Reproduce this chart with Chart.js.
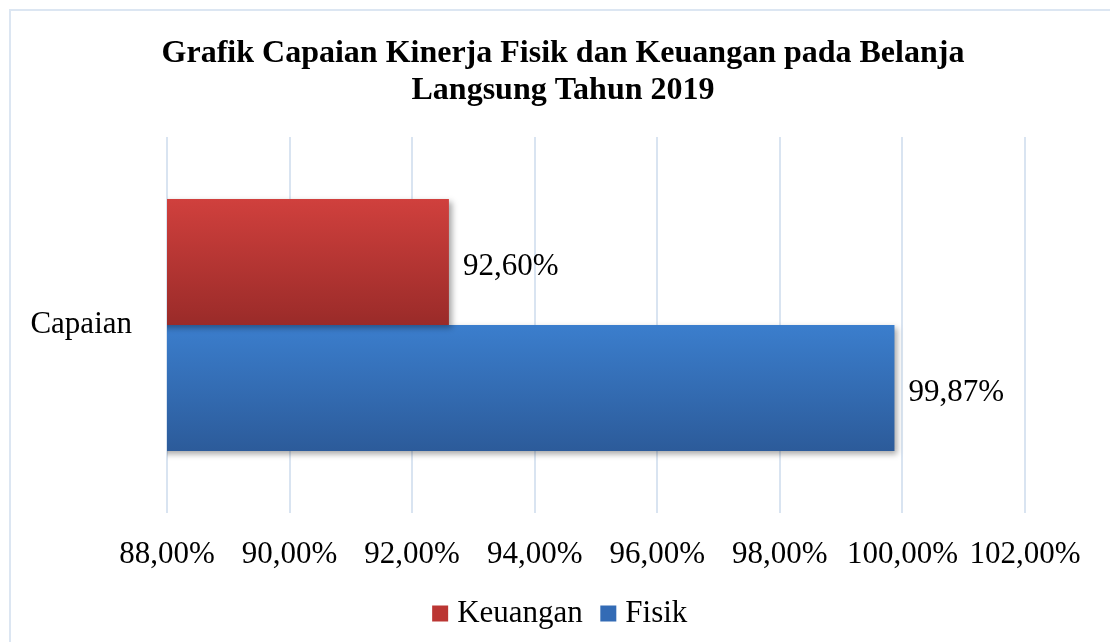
<!DOCTYPE html>
<html>
<head>
<meta charset="utf-8">
<script src="https://cdn.jsdelivr.net/npm/chart.js@4/dist/chart.umd.min.js"></script>
<style>
  html, body { margin: 0; padding: 0; background: #fff; overflow: hidden; }
  #wrap { position: relative; width: 1110px; height: 642px; }
  #frame { position: absolute; left: 9px; top: 9px; width: 1110px; height: 642px; border: 2px solid #dce6f2; }
  canvas { position: absolute; left: 0; top: 0; }
</style>
</head>
<body>
<div id="wrap">
  <div id="frame"></div>
  <canvas id="capaianChart" width="1110" height="642"></canvas>
</div>
<script>
const categories = ['Capaian'];
const seriesNames = ['Keuangan', 'Fisik'];
const keuanganValues = [92.60];
const fisikValues = [99.87];
const xTicks = [88, 90, 92, 94, 96, 98, 100, 102];

const FONT = "'Liberation Serif', 'Times New Roman', serif";

function pct(v) {
    return v.toFixed(2).replace('.', ',') + '%';
}

// vertical gradient per bar, light on top and dark at the bottom
function barGradient(top, bottom) {
    return function (ctx) {
        const chart = ctx.chart;
        const y = chart.scales.y;
        if (!y || !chart.chartArea) return top;
        const band = y.height / categories.length;
        const thick = band * 0.67 / 2;
        const center = y.getPixelForValue(ctx.dataIndex);
        const y0 = ctx.datasetIndex === 0 ? center - thick : center;
        const g = chart.ctx.createLinearGradient(0, y0, 0, y0 + thick);
        g.addColorStop(0, top);
        g.addColorStop(1, bottom);
        return g;
    };
}

const shadowPlugin = {
    id: 'barShadow',
    beforeDatasetsDraw(chart) {
        const c = chart.ctx;
        c.save();
        c.shadowColor = 'rgba(0,0,0,0.35)';
        c.shadowBlur = 6;
        c.shadowOffsetX = 3;
        c.shadowOffsetY = 3;
    },
    afterDatasetsDraw(chart) {
        chart.ctx.restore();
    }
};

const valueLabels = {
    id: 'valueLabels',
    afterDraw(chart) {
        const c = chart.ctx;
        c.save();
        c.font = '31px ' + FONT;
        c.fillStyle = '#000';
        c.textAlign = 'left';
        c.textBaseline = 'middle';
        chart.data.datasets.forEach((ds, i) => {
            chart.getDatasetMeta(i).data.forEach((bar, j) => {
                c.fillText(pct(ds.data[j]), bar.x + 14, bar.y + 5);
            });
        });
        c.restore();
    }
};

const ctx = document.getElementById('capaianChart').getContext('2d');
new Chart(ctx, {
    type: 'bar',
    data: {
        labels: categories,
        datasets: [{
            label: seriesNames[0],
            data: keuanganValues,
            backgroundColor: barGradient('#d0403d', '#9a2b29'),
            legendColor: '#bb3633'
        }, {
            label: seriesNames[1],
            data: fisikValues,
            backgroundColor: barGradient('#3b7ecd', '#2c5b9a'),
            legendColor: '#336bb5'
        }]
    },
    options: {
        indexAxis: 'y',
        responsive: false,
        animation: false,
        categoryPercentage: 0.67,
        barPercentage: 1.0,
        layout: { padding: { top: 25.6, right: 4, bottom: 3, left: 20 } },
        scales: {
            x: {
                min: 88,
                max: 102,
                afterBuildTicks: (scale) => { scale.ticks = xTicks.map(v => ({ value: v })); },
                afterFit: (scale) => { scale.height = 61; },
                grid: { color: '#d9e4f1', lineWidth: 2, drawTicks: false },
                border: { display: false },
                ticks: {
                    padding: 23,
                    color: '#000',
                    font: { family: FONT, size: 31 },
                    callback: (v) => pct(v)
                }
            },
            y: {
                afterFit: (scale) => { scale.width = 147; },
                grid: { display: false, drawTicks: false },
                border: { display: false },
                ticks: {
                    padding: 35,
                    color: '#000',
                    font: { family: FONT, size: 31 }
                }
            },
            // empty space on the right of the plot
            yRight: {
                axis: 'y',
                position: 'right',
                afterFit: (scale) => { scale.width = 81; },
                grid: { display: false, drawTicks: false },
                border: { display: false },
                ticks: { display: false }
            }
        },
        plugins: {
            title: {
                display: true,
                text: ['Grafik Capaian Kinerja Fisik dan Keuangan pada Belanja', 'Langsung Tahun 2019'],
                color: '#000',
                font: { family: FONT, size: 32, weight: 'bold', lineHeight: 1.15 },
                padding: { top: 10, bottom: 27.8 }
            },
            legend: {
                position: 'bottom',
                labels: {
                    color: '#000',
                    font: { family: FONT, size: 31 },
                    usePointStyle: true,
                    pointStyle: 'rect',
                    boxWidth: 3,
                    boxHeight: 16,
                    padding: 24,
                    generateLabels: (chart) => chart.data.datasets.map((ds, i) => ({
                        text: ds.label,
                        fillStyle: ds.legendColor,
                        strokeStyle: ds.legendColor,
                        lineWidth: 0,
                        pointStyle: 'rect',
                        datasetIndex: i
                    }))
                }
            },
            tooltip: { enabled: false }
        }
    },
    plugins: [shadowPlugin, valueLabels]
});
</script>
</body>
</html>
